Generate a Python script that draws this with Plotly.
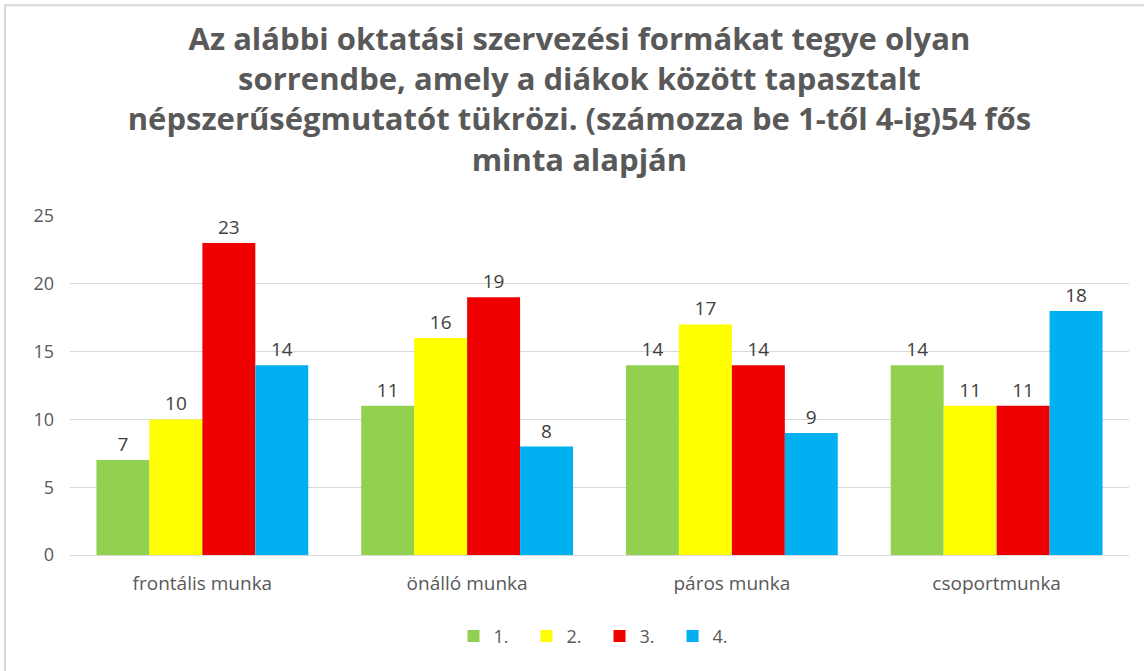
import plotly.graph_objects as go

categories = ["frontális munka", "önálló munka", "páros munka", "csoportmunka"]
series_names = ["1.", "2.", "3.", "4."]
s1 = [7, 11, 14, 14]
s2 = [10, 16, 17, 11]
s3 = [23, 19, 14, 11]
s4 = [14, 8, 9, 18]
colors = ["#92D050", "#FFFF00", "#EE0000", "#00B0F0"]
title = ("Az alábbi oktatási szervezési formákat tegye olyan<br>"
         "sorrendbe, amely a diákok között tapasztalt<br>"
         "népszerűségmutatót tükrözi. (számozza be 1-től 4-ig)54 fős<br>"
         "minta alapján")

FONT = "Open Sans, sans-serif"

fig = go.Figure()
for name, vals, col in zip(series_names, [s1, s2, s3, s4], colors):
    fig.add_trace(go.Bar(
        x=categories, y=vals, name=name, marker_color=col,
        marker_line_width=0,
        text=vals, textposition="outside", cliponaxis=False,
        textfont=dict(size=19, color="#404040", family=FONT),
    ))

fig.update_layout(
    width=1144, height=671,
    paper_bgcolor="white", plot_bgcolor="white",
    barmode="group", bargap=0.2, bargroupgap=0,
    margin=dict(l=70, r=15, t=216, b=116),
    title=dict(text=title, x=0.5065, xanchor="center", y=0.926, yanchor="top",
               font=dict(size=31, color="#595959", family=FONT, weight="bold")),
    font=dict(family=FONT, color="#595959", size=19),
    legend=dict(orientation="h", x=0.5, xanchor="center", y=-0.24, yanchor="middle",
                font=dict(size=18, color="#595959"), itemwidth=30, entrywidth=28,
                traceorder="normal"),
    xaxis=dict(showline=True, linecolor="#D9D9D9", ticks="", tickfont=dict(size=19, color="#595959"),
               ticklabelstandoff=11),
    yaxis=dict(range=[0, 25], dtick=5, showgrid=True, gridcolor="#D9D9D9", zeroline=False,
               tickfont=dict(size=18, color="#595959"), ticklabelstandoff=15),
    shapes=[dict(type="rect", xref="paper", yref="paper", x0=-0.0614, x1=1.05, y0=-0.45, y1=1.622,
                 line=dict(color="#D9D9D9", width=2), layer="below")],
)

fig.write_html("out.html", config={"displayModeBar": False},
               post_script="document.body.style.margin='0';document.body.style.padding='0';")
